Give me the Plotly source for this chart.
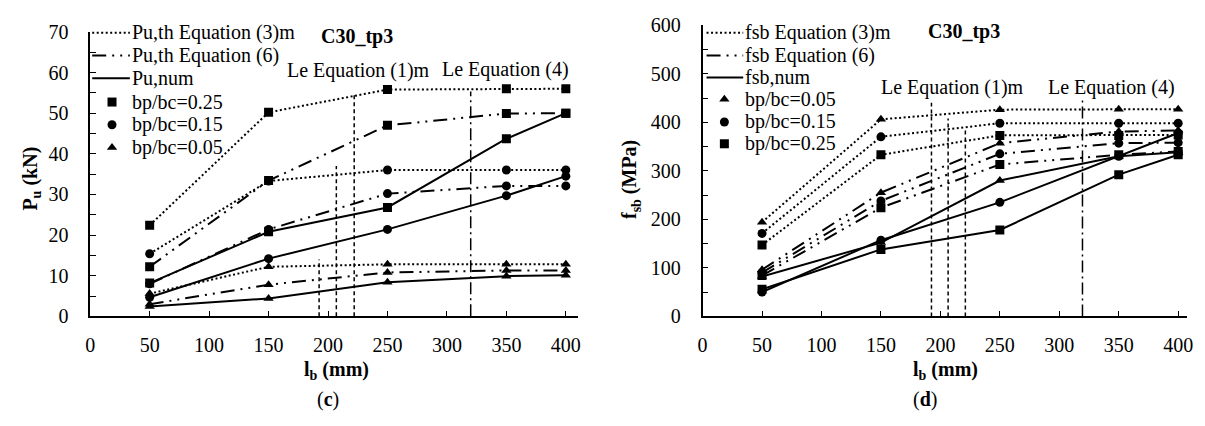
import plotly.graph_objects as go

W, H = 1205, 426
FONT = "Liberation Serif, Times New Roman, serif"
FS = 20

lb = [50, 150, 250, 350, 400]

# Left chart (c): Pu (kN)
Pu_eq3m_025 = [22.4, 50.2, 55.8, 56.0, 56.0]
Pu_eq3m_015 = [15.4, 33.3, 36.0, 36.0, 36.0]
Pu_eq3m_005 = [5.6, 12.2, 12.8, 12.8, 12.8]
Pu_eq6_025 = [12.2, 33.4, 47.0, 49.9, 50.0]
Pu_eq6_015 = [8.0, 21.4, 30.2, 32.1, 32.1]
Pu_eq6_005 = [3.0, 7.8, 10.8, 11.3, 11.3]
Pu_num_025 = [8.2, 20.8, 26.8, 43.7, 50.0]
Pu_num_015 = [4.7, 14.2, 21.4, 29.7, 34.5]
Pu_num_005 = [2.4, 4.4, 8.4, 9.9, 10.1]

# Right chart (d): fsb (MPa)
fsb_eq3m_005 = [194, 406, 426, 427, 427]
fsb_eq3m_015 = [171, 370, 398, 398, 398]
fsb_eq3m_025 = [147, 333, 373, 373, 374]
fsb_eq6_005 = [96, 255, 357, 381, 383]
fsb_eq6_015 = [90, 238, 335, 357, 358]
fsb_eq6_025 = [84, 224, 313, 333, 340]
fsb_num_005 = [82, 152, 280, 330, 338]
fsb_num_015 = [50, 157, 235, 330, 378]
fsb_num_025 = [56, 138, 178, 292, 333]

# Le reference lines: x positions and top values
le1_x_left = [192.5, 207, 222]
le1_top_left = [14, 37, 55]
le4_x_left = 320
le4_top_left = 55.3
le1_x_right = [192.5, 206.5, 221]
le1_top_right = [440, 408, 383]
le4_x_right = 319.5
le4_top_right = 447

x_ticks = [0, 50, 100, 150, 200, 250, 300, 350, 400]

legend_left_lines = ["Pu,th Equation (3)m", "Pu,th Equation (6)", "Pu,num"]
legend_left_markers = ["bp/bc=0.25", "bp/bc=0.15", "bp/bc=0.05"]
legend_right_lines = ["fsb Equation (3)m", "fsb Equation (6)", "fsb,num"]
legend_right_markers = ["bp/bc=0.05", "bp/bc=0.15", "bp/bc=0.25"]

DOT = "2px,2.5px"
DASHDOT2 = "14px,6px,2px,6px,2px,6px"
VDASH = "4px,3px"
VDASHDOT = "12px,4px,2px,4px"

fig = go.Figure()


def add_series(xa, ya, ys, dash, symbol, size=9):
    fig.add_trace(go.Scatter(
        x=lb, y=ys, xaxis=xa, yaxis=ya, mode="lines+markers",
        line=dict(color="black", width=2, dash=dash),
        marker=dict(symbol=symbol, size=size, color="black"),
        showlegend=False, hoverinfo="skip"))


# vertical lines (drawn first, beneath)
for xv, tv in zip(le1_x_left, le1_top_left):
    fig.add_trace(go.Scatter(x=[xv, xv], y=[0, tv], xaxis="x", yaxis="y", mode="lines",
                             line=dict(color="black", width=1.5, dash=VDASH), showlegend=False))
fig.add_trace(go.Scatter(x=[le4_x_left, le4_x_left], y=[0, le4_top_left], xaxis="x", yaxis="y",
                         mode="lines", line=dict(color="black", width=1.5, dash=VDASHDOT), showlegend=False))
for xv, tv in zip(le1_x_right, le1_top_right):
    fig.add_trace(go.Scatter(x=[xv, xv], y=[0, tv], xaxis="x2", yaxis="y2", mode="lines",
                             line=dict(color="black", width=1.5, dash=VDASH), showlegend=False))
fig.add_trace(go.Scatter(x=[le4_x_right, le4_x_right], y=[0, le4_top_right], xaxis="x2", yaxis="y2",
                         mode="lines", line=dict(color="black", width=1.5, dash=VDASHDOT), showlegend=False))

# left series
for ys, sym in [(Pu_eq3m_025, "square"), (Pu_eq3m_015, "circle"), (Pu_eq3m_005, "triangle-up")]:
    add_series("x", "y", ys, DOT, sym)
for ys, sym in [(Pu_eq6_025, "square"), (Pu_eq6_015, "circle"), (Pu_eq6_005, "triangle-up")]:
    add_series("x", "y", ys, DASHDOT2, sym)
for ys, sym in [(Pu_num_025, "square"), (Pu_num_015, "circle"), (Pu_num_005, "triangle-up")]:
    add_series("x", "y", ys, "solid", sym)

# right series
for ys, sym in [(fsb_eq3m_005, "triangle-up"), (fsb_eq3m_015, "circle"), (fsb_eq3m_025, "square")]:
    add_series("x2", "y2", ys, DOT, sym)
for ys, sym in [(fsb_eq6_005, "triangle-up"), (fsb_eq6_015, "circle"), (fsb_eq6_025, "square")]:
    add_series("x2", "y2", ys, DASHDOT2, sym)
for ys, sym in [(fsb_num_005, "triangle-up"), (fsb_num_015, "circle"), (fsb_num_025, "square")]:
    add_series("x2", "y2", ys, "solid", sym)


def px(x):
    return x / W


def py(y):
    return 1 - y / H


# ---- manual legends on a pixel overlay axis (x3/y3) ----
def legend_block(line_names, marker_names, marker_syms, x0, x1, xm, xt, rows):
    dashes = [DOT, DASHDOT2, "solid"]
    for i, (nm, d) in enumerate(zip(line_names, dashes)):
        fig.add_trace(go.Scatter(x=[x0, x1], y=[rows[i], rows[i]], xaxis="x3", yaxis="y3", mode="lines",
                                 line=dict(color="black", width=2, dash=d), showlegend=False,
                                 hoverinfo="skip"))
        fig.add_annotation(text=nm, x=px(xt), y=py(rows[i]), xref="paper", yref="paper",
                           showarrow=False, xanchor="left", yanchor="middle",
                           font=dict(family=FONT, size=FS, color="black"))
    for j, (nm, s) in enumerate(zip(marker_names, marker_syms)):
        r = rows[3 + j]
        fig.add_trace(go.Scatter(x=[xm], y=[r], xaxis="x3", yaxis="y3", mode="markers",
                                 marker=dict(symbol=s, size=9, color="black"), showlegend=False,
                                 hoverinfo="skip"))
        fig.add_annotation(text=nm, x=px(xt), y=py(r), xref="paper", yref="paper",
                           showarrow=False, xanchor="left", yanchor="middle",
                           font=dict(family=FONT, size=FS, color="black"))


legend_block(legend_left_lines, legend_left_markers, ["square", "circle", "triangle-up"],
             88, 126, 108, 126, [23, 47, 71, 96, 120, 144])
legend_block(legend_right_lines, legend_right_markers, ["triangle-up", "circle", "square"],
             708, 745, 726, 745, [23, 47, 70, 93, 117, 140])

axis_common = dict(showline=True, linecolor="black", linewidth=1.5, showgrid=False, zeroline=False,
                   ticks="inside", ticklen=6, tickcolor="black", tickwidth=1.2,
                   tickfont=dict(family=FONT, size=FS, color="black"))

xcommon = dict(axis_common, tickvals=x_ticks, range=[0, 410], ticklabelstandoff=10)

fig.update_layout(
    width=W, height=H, margin=dict(l=0, r=0, t=0, b=0),
    paper_bgcolor="white", plot_bgcolor="rgba(0,0,0,0)",
    font=dict(family=FONT, size=FS, color="black"),
    showlegend=False,
    xaxis=dict(xcommon, domain=[px(86), px(578)], anchor="y"),
    yaxis=dict(axis_common, domain=[1 - 322 / H, 1 - 22 / H], range=[0, 70], dtick=10, anchor="x",
               minor=dict(dtick=5, ticks="inside", ticklen=6, tickcolor="black", tickwidth=1.2),
               ticklabelstandoff=16),
    xaxis2=dict(xcommon, domain=[px(704), px(1193)], anchor="y2", range=[0, 407.5]),
    yaxis2=dict(axis_common, domain=[1 - 322 / H, 1 - 15 / H], range=[0, 600], dtick=100, anchor="x2",
                minor=dict(dtick=50, ticks="inside", ticklen=6, tickcolor="black", tickwidth=1.2),
                ticklabelstandoff=16),
    xaxis3=dict(domain=[0, 1], range=[0, W], visible=False, anchor="y3", fixedrange=True),
    yaxis3=dict(domain=[0, 1], range=[H, 0], visible=False, anchor="x3", fixedrange=True),
)

ann = [
    ("<b>C30_tp3</b>", 355, 27, 0),
    ("Le Equation (1)m", 357, 63, 0),
    ("Le Equation (4)", 505, 62, 0),
    ("<b>P<sub>u</sub> (kN)</b>", 27, 177, -90),
    ("<b>l<sub>b</sub> (mm)</b>", 335, 379, 0),
    ("(<b>c</b>)", 326, 410, 0),
    ("<b>C30_tp3</b>", 968, 22, 0),
    ("Le Equation (1)m", 956, 81, 0),
    ("Le Equation (4)", 1117, 81, 0),
    ("<b>f<sub>sb</sub> (MPa)</b>", 632, 178, -90),
    ("<b>l<sub>b</sub> (mm)</b>", 949, 379, 0),
    ("(<b>d</b>)", 928, 410, 0),
]
for t, x, y, a in ann:
    fig.add_annotation(text=t, x=px(x), y=py(y), xref="paper", yref="paper", showarrow=False,
                       xanchor="center", yanchor="middle", textangle=a,
                       font=dict(family=FONT, size=FS, color="black"))

fig.write_html("out.html")
